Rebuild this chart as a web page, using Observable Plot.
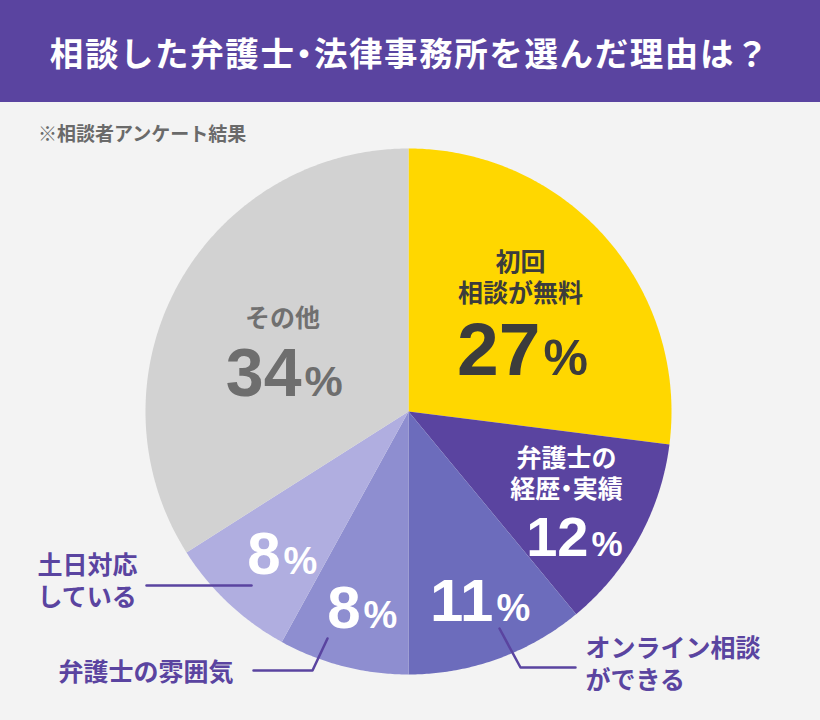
<!DOCTYPE html>
<html lang="ja">
<head>
<meta charset="utf-8">
<script src="https://cdn.jsdelivr.net/npm/d3@7"></script>
<script src="https://cdn.jsdelivr.net/npm/@observablehq/plot@0.6"></script>
<style>
  html, body { margin: 0; padding: 0; background: #f3f3f3; width: 820px; height: 720px; overflow: hidden; }
  body { font-family: "Liberation Sans", "Noto Sans CJK JP", sans-serif; position: relative; }
  #title { height: 102px; background: #5a44a0; color: #fff; font-size: 33.5px; font-weight: bold; letter-spacing: 1.6px;
           display: flex; align-items: center; justify-content: center; font-family: "Noto Sans CJK JP", sans-serif; }
  #title .dot { font-feature-settings: "palt"; }
  #sub { position: absolute; left: 38px; top: 119px; font-size: 19px; font-weight: bold; color: #6a6a6a; font-family: "Noto Sans CJK JP", sans-serif; }
  #chart svg { display: block; }
</style>
</head>
<body>
<div id="title"><span>相談した弁護士<span class="dot">・</span>法律事務所を選んだ理由は？</span></div>
<div id="sub">※相談者アンケート結果</div>
<div id="chart"></div>
<script>
// ---- data ----
const categories = ["初回相談が無料", "弁護士の経歴・実績", "オンライン相談ができる", "弁護士の雰囲気", "土日対応している", "その他"];
const values = [27, 12, 11, 8, 8, 34];
const colors = ["#ffd700", "#5a44a0", "#6c6cbc", "#8e8ed0", "#b0aee0", "#d2d2d2"];
const insideNames = [["初回", "相談が無料"], ["弁護士の", "経歴・実績"], [], [], [], ["その他"]];
const outsideNames = [[], [], ["オンライン相談", "ができる"], ["弁護士の雰囲気"], ["土日対応", "している"], []];

// ---- layout (pie space: units = px, origin = pie centre, y down) ----
const R = 263;
const numAt = [[133, -37], [181, 144], [86, 209], [-47, 216], [-127, 162], [-106, -16]];
const numSize = [75, 56, 60, 60, 60, 68];
const pctSize = [50, 35, 38, 38, 38, 43];
const numColor = ["#3c3c3c", "#ffffff", "#ffffff", "#ffffff", "#ffffff", "#6e6e6e"];
const nameAt = [[112, -149], [158, 47], null, null, null, [-126, -93]];
const nameColor = ["#3c3c3c", "#ffffff", null, null, null, "#707070"];
const outAt = [null, null, [177, 237], [-350, 261], [-371, 154], null];
const lineGap = 31;
const leaders = [null, null, [[91, 217], [112, 256], [167, 256]], [[-81, 227], [-96, 259], [-155, 259]], [[-157, 174], [-262, 174]], null];

// ---- slices ----
const total = d3.sum(values);
const slicePts = [];
let acc = 0;
categories.forEach((c, i) => {
  const a0 = acc / total * 2 * Math.PI;
  acc += values[i];
  const a1 = acc / total * 2 * Math.PI;
  slicePts.push({cat: c, x: 0, y: 0});
  const n = Math.max(4, Math.ceil((a1 - a0) / (Math.PI / 360)));
  for (let k = 0; k <= n; k++) {
    const a = a0 + (a1 - a0) * k / n;
    slicePts.push({cat: c, x: R * Math.sin(a), y: -R * Math.cos(a)});
  }
  slicePts.push({cat: c, x: 0, y: 0});
});

const FONT = "Liberation Sans, Noto Sans CJK JP, sans-serif";
const JFONT = "Noto Sans CJK JP, sans-serif";
const purple = "#5a44a0";

const marks = [
  Plot.line(slicePts, {x: "x", y: "y", z: "cat", fill: "cat", stroke: "none", curve: "linear"})
];

categories.forEach((c, i) => {
  const [nx, ny] = numAt[i];
  marks.push(Plot.text([{x: nx - 1, y: ny, t: String(values[i])}], {
    x: "x", y: "y", text: "t", textAnchor: "end", lineAnchor: "bottom",
    fontSize: numSize[i], fontWeight: "bold", fontFamily: FONT, fill: numColor[i]
  }));
  marks.push(Plot.text([{x: nx + 2, y: ny, t: "%"}], {
    x: "x", y: "y", text: "t", textAnchor: "start", lineAnchor: "bottom",
    fontSize: pctSize[i], fontWeight: "bold", fontFamily: FONT, fill: numColor[i]
  }));
  if (nameAt[i]) {
    const rows = insideNames[i].map((t, k) => ({x: nameAt[i][0], y: nameAt[i][1] + k * lineGap, t}));
    marks.push(Plot.text(rows, {
      x: "x", y: "y", text: "t", textAnchor: "middle", lineAnchor: "middle",
      fontSize: 25, fontWeight: "bold", fontFamily: JFONT, fill: nameColor[i]
    }));
  }
  if (outAt[i]) {
    const rows = outsideNames[i].map((t, k) => ({x: outAt[i][0], y: outAt[i][1] + k * 32, t}));
    marks.push(Plot.text(rows, {
      x: "x", y: "y", text: "t", textAnchor: "start", lineAnchor: "middle",
      fontSize: 25, fontWeight: "bold", fontFamily: JFONT, fill: purple
    }));
  }
  if (leaders[i]) {
    marks.push(Plot.line(leaders[i].map(([x, y]) => ({x, y})), {
      x: "x", y: "y", stroke: purple, strokeWidth: 2.5, curve: "linear"
    }));
  }
});

const chart = Plot.plot({
  width: 820,
  height: 618,
  margin: 0,
  x: {domain: [-408, 412], range: [0, 820], axis: null},
  y: {domain: [-309, 309], range: [0, 618], axis: null},
  color: {domain: categories, range: colors},
  style: {background: "transparent", overflow: "visible"},
  marks
});
d3.select(chart).selectAll("text").filter(function() { return this.textContent.includes("・"); })
  .style("font-feature-settings", "'palt'");
document.getElementById("chart").appendChild(chart);
</script>
</body>
</html>
